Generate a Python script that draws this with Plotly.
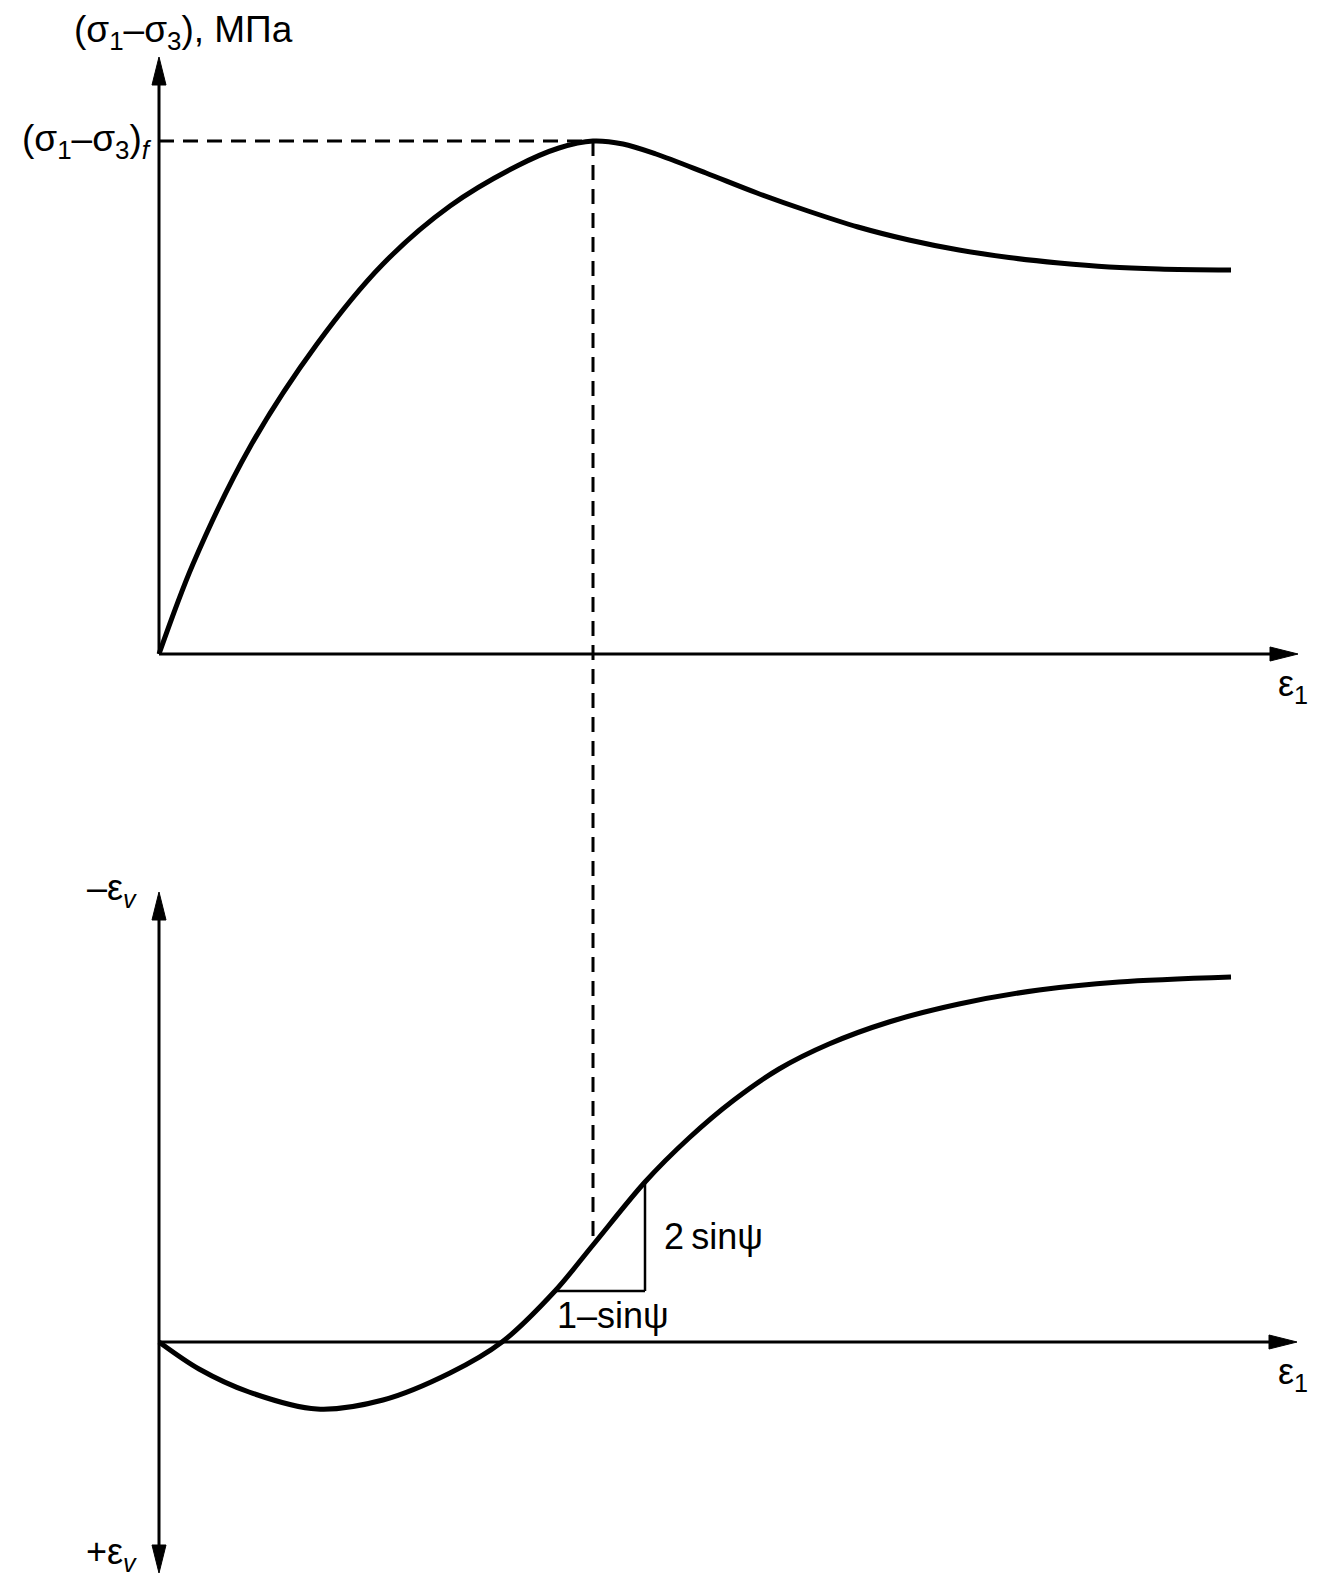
import numpy as np
import plotly.graph_objects as go

# ---------------- data (schematic units) ----------------
# upper panel: deviator stress vs axial strain
eps_top = [0.0, 0.34, 0.91, 1.58, 2.24, 2.91, 3.58, 4.0, 4.34, 4.64, 4.97, 5.47, 5.98,
           6.49, 6.99, 7.5, 8.0, 8.5, 9.0, 9.5, 10.0, 10.72]
q_top = [0.0, 0.90, 2.07, 3.10, 3.90, 4.48, 4.88, 5.06, 5.13, 5.10, 5.00, 4.81, 4.61,
         4.43, 4.27, 4.14, 4.04, 3.965, 3.91, 3.87, 3.85, 3.84]

# lower panel: volumetric strain (-eps_v up) vs axial strain
eps_bot = [0.0, 0.4, 0.9, 1.58, 2.24, 2.91, 3.43, 3.96, 4.34, 4.86, 5.3, 5.75, 6.2,
           6.7, 7.3, 8.0, 8.8, 9.6, 10.72]
v_bot = [0.0, -0.27, -0.50, -0.67, -0.58, -0.31, 0.0, 0.51, 0.97, 1.60, 2.04, 2.42,
         2.73, 2.98, 3.20, 3.38, 3.52, 3.60, 3.65]

peak_eps = 4.34
peak_q = 5.13

# dilatancy triangle
tri_x = [3.96, 4.86]
tri_y = [0.51, 1.60]

# labels
SUB = '<sub style="font-size:90%">'
label_top_y = f"(σ{SUB}1</sub>–σ{SUB}3</sub>), МПа"
label_peak = f"(σ{SUB}1</sub>–σ{SUB}3</sub>){SUB}<i>f</i></sub>"
label_x = f"ε{SUB}1</sub>"
label_neg_v = f"–ε{SUB}<i>v</i></sub>"
label_pos_v = f"+ε{SUB}<i>v</i></sub>"
label_rise = "2\u2009sinψ"
label_run = "1–sinψ"

# ---------------- layout constants ----------------
# the page body has an 8px margin, so the figure is placed 8px in from top-left
W, H = 1318, 1572
x_range = [-1.51, 11.67]
split = 1 - 762 / 1572
top_dom = [split, 1.0]
bot_dom = [0.0, split]
top_range = [-1.16, 6.46]
bot_range = [-2.38, 5.72]

top_y_tip = 5.97
top_x_tip = 11.39
bot_y_tip = 4.50
bot_y_low = -2.31
bot_x_tip = 11.38
a_len = 0.28
a_hw = 0.07

FONT = "Liberation Sans, Arial, sans-serif"
FS = 37

fig = go.Figure()

fig.add_trace(go.Scatter(x=eps_top, y=q_top, mode="lines",
                         line=dict(color="black", width=5, shape="spline", smoothing=0.9),
                         xaxis="x", yaxis="y", showlegend=False, hoverinfo="skip"))
fig.add_trace(go.Scatter(x=eps_bot, y=v_bot, mode="lines",
                         line=dict(color="black", width=5, shape="spline", smoothing=0.9),
                         xaxis="x2", yaxis="y2", showlegend=False, hoverinfo="skip"))

shapes = []


def line(x0, y0, x1, y1, xr, yr, w=3, dash=None):
    d = dict(type="line", x0=x0, y0=y0, x1=x1, y1=y1, xref=xr, yref=yr,
             line=dict(color="black", width=w))
    if dash:
        d["line"]["dash"] = dash
    shapes.append(d)


def head(tx, ty, direction, xr, yr):
    if direction == "up":
        p = f"M {tx},{ty} L {tx - a_hw},{ty - a_len} L {tx + a_hw},{ty - a_len} Z"
    elif direction == "down":
        p = f"M {tx},{ty} L {tx - a_hw},{ty + a_len} L {tx + a_hw},{ty + a_len} Z"
    else:
        p = f"M {tx},{ty} L {tx - a_len},{ty - a_hw} L {tx - a_len},{ty + a_hw} Z"
    shapes.append(dict(type="path", path=p, xref=xr, yref=yr,
                       fillcolor="black", line=dict(color="black", width=1)))


# top axes
line(0, 0, 0, top_y_tip - a_len * 0.8, "x", "y")
head(0, top_y_tip, "up", "x", "y")
line(0, 0, top_x_tip - a_len * 0.8, 0, "x", "y")
head(top_x_tip, 0, "right", "x", "y")

# bottom axes
line(0, bot_y_low + a_len * 0.8, 0, bot_y_tip - a_len * 0.8, "x2", "y2")
head(0, bot_y_tip, "up", "x2", "y2")
head(0, bot_y_low, "down", "x2", "y2")
line(0, 0, bot_x_tip - a_len * 0.8, 0, "x2", "y2")
head(bot_x_tip, 0, "right", "x2", "y2")

# dashed horizontal to the peak
line(0, peak_q, peak_eps, peak_q, "x", "y", w=3, dash="15px,9px")

# dashed vertical from peak down to the volumetric curve (paper coords from axis scales)
v_at_peak = float(np.interp(peak_eps, eps_bot, v_bot))


def to_paper(val, rng, dom):
    return dom[0] + (val - rng[0]) / (rng[1] - rng[0]) * (dom[1] - dom[0])


shapes.append(dict(type="line", xref="x", yref="paper",
                   x0=peak_eps, x1=peak_eps,
                   y0=to_paper(peak_q, top_range, top_dom),
                   y1=to_paper(v_at_peak, bot_range, bot_dom),
                   line=dict(color="black", width=3, dash="15px,9px")))

# triangle
line(tri_x[0], tri_y[0], tri_x[1], tri_y[0], "x2", "y2", w=2.5)
line(tri_x[1], tri_y[0], tri_x[1], tri_y[1], "x2", "y2", w=2.5)

ann = []


def text(t, x, y, xr, yr, xa="center", ya="middle", size=FS):
    ann.append(dict(text=t, x=x, y=y, xref=xr, yref=yr, xanchor=xa, yanchor=ya,
                    showarrow=False, font=dict(family=FONT, size=size, color="black")))


text(label_top_y, 0.24, 6.22, "x", "y")
text(label_peak, -0.05, peak_q, "x", "y", xa="right")
text(label_x, 11.34, -0.32, "x", "y", size=36)
text(label_neg_v, -0.20, 4.52, "x2", "y2", xa="right", size=36)
text(label_pos_v, -0.20, -2.12, "x2", "y2", xa="right", size=36)
text(label_x, 11.34, -0.32, "x2", "y2", size=36)
text(label_rise, 5.03, 1.06, "x2", "y2", xa="left", size=36)
text(label_run, 3.96, 0.27, "x2", "y2", xa="left", size=36)

ax_common = dict(visible=False, showgrid=False, zeroline=False, fixedrange=True)
fig.update_layout(
    width=W, height=H, autosize=False,
    margin=dict(l=0, r=0, t=0, b=0, pad=0),
    paper_bgcolor="white", plot_bgcolor="white",
    xaxis=dict(range=x_range, domain=[0, 1], anchor="y", **ax_common),
    yaxis=dict(range=top_range, domain=top_dom, anchor="x", **ax_common),
    xaxis2=dict(range=x_range, domain=[0, 1], anchor="y2", **ax_common),
    yaxis2=dict(range=bot_range, domain=bot_dom, anchor="x2", **ax_common),
    shapes=shapes, annotations=ann, showlegend=False,
)

fig.write_html("out.html")
